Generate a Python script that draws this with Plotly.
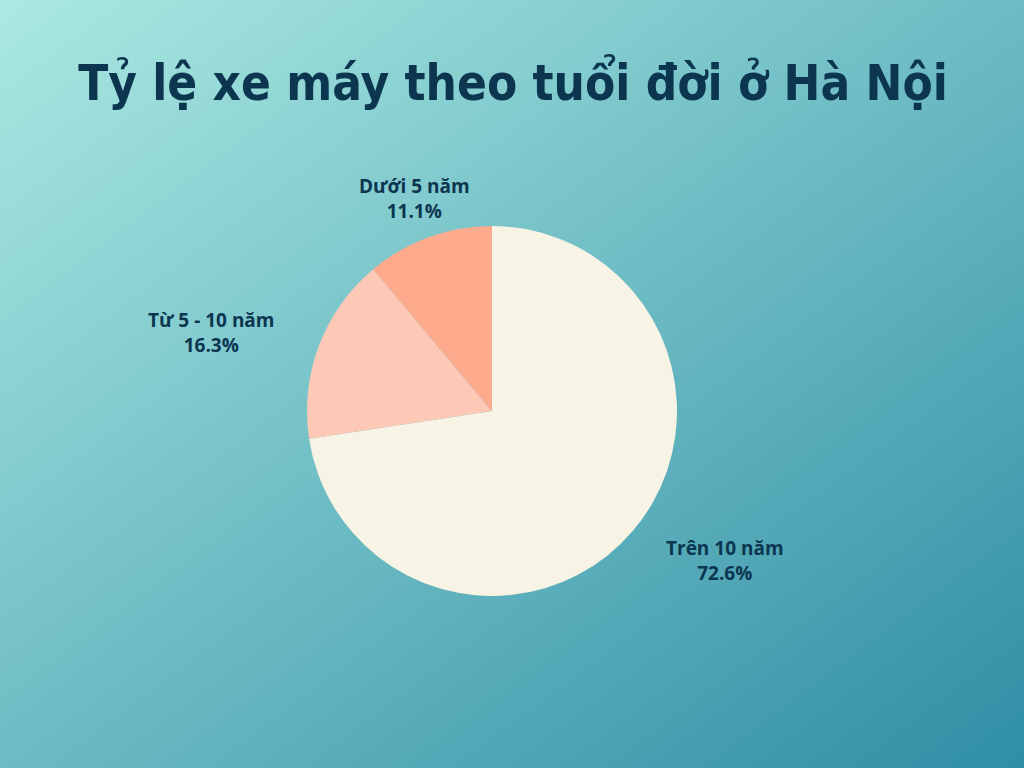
"""
Tỷ lệ xe máy theo tuổi đời ở Hà Nội - pie chart
"""
import plotly.graph_objects as go

labels = ["Trên 10 năm", "Từ 5 - 10 năm", "Dưới 5 năm"]
values = [72.6, 16.3, 11.1]
colors = ["#f7f3e5", "#fdc9b6", "#fdaa8d"]

title_text = "Tỷ lệ xe máy theo tuổi đời ở Hà Nội"
dark = "#0c3550"

# where each outside label sits (paper coords, label centre)
label_pos = {
    "Trên 10 năm": (725 / 1024, 1 - 560 / 768),
    "Từ 5 - 10 năm": (211 / 1024, 1 - 332 / 768),
    "Dưới 5 năm": (414 / 1024, 1 - 198 / 768),
}

# diagonal teal gradient for the whole canvas
bg_svg = (
    "<svg xmlns='http://www.w3.org/2000/svg' width='1024' height='768' preserveAspectRatio='none'>"
    "<defs><linearGradient id='g' x1='0' y1='0' x2='1' y2='1'>"
    "<stop offset='0' stop-color='#abe9e2'/><stop offset='1' stop-color='#2f8ea5'/>"
    "</linearGradient></defs>"
    "<rect width='1024' height='768' fill='url(#g)'/></svg>"
)
bg_uri = "data:image/svg+xml;charset=utf-8," + bg_svg.replace("#", "%23").replace("<", "%3C").replace(">", "%3E")

fig = go.Figure(go.Pie(
    labels=labels,
    values=values,
    sort=False,
    direction="clockwise",
    rotation=0,
    marker=dict(colors=colors, line=dict(width=0)),
    textinfo="none",
    domain=dict(x=[307 / 1024, 677 / 1024], y=[1 - 596 / 768, 1 - 226 / 768]),
    showlegend=False,
    hoverinfo="label+percent",
))

total = sum(values)
annotations = []
for lab, val in zip(labels, values):
    x, y = label_pos[lab]
    annotations.append(dict(
        text=f"{lab}<br>{val / total * 100:.1f}%",
        x=x, y=y, xref="paper", yref="paper",
        xanchor="center", yanchor="middle",
        showarrow=False, align="center",
        font=dict(family="Open Sans", size=19, color=dark, weight="bold"),
    ))

fig.update_layout(
    width=1024,
    height=768,
    margin=dict(l=0, r=0, t=0, b=0),
    paper_bgcolor="#6dbcc4",
    plot_bgcolor="rgba(0,0,0,0)",
    title=dict(
        text=title_text,
        x=513 / 1024, xanchor="center",
        y=1 - 83 / 768, yanchor="middle",
        font=dict(family="DejaVu Sans Condensed, Roboto", size=49, color=dark, weight="bold"),
    ),
    annotations=annotations,
    images=[dict(
        source=bg_uri, xref="paper", yref="paper",
        x=0, y=1, sizex=1, sizey=1,
        sizing="stretch", layer="below",
    )],
)

# drop the default page margin so the canvas fills the window
fig.write_html(
    "out.html",
    config={"displayModeBar": False},
    post_script="document.body.style.margin='0';",
)
